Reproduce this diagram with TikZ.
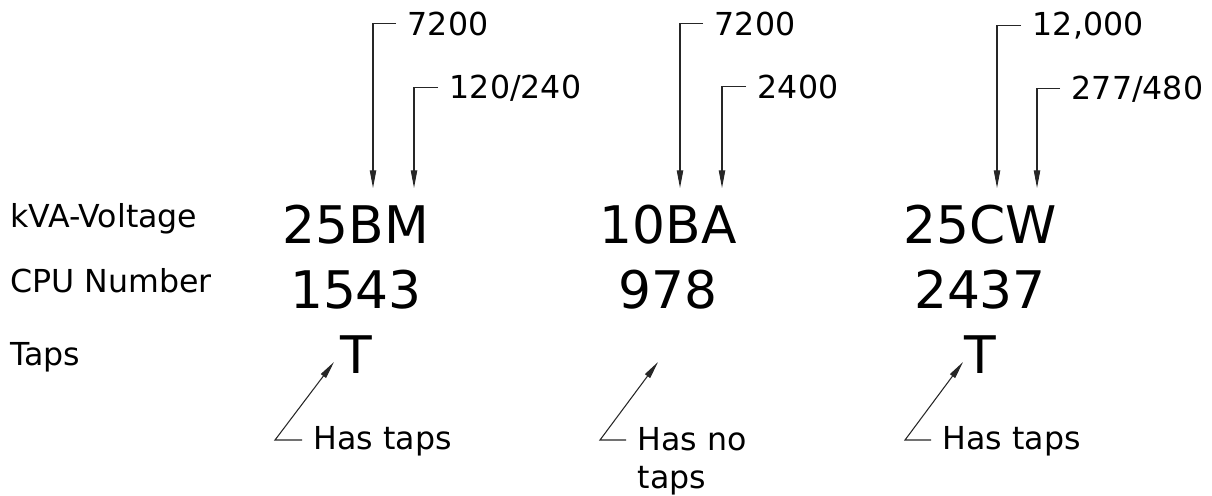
\documentclass[tikz,border=0pt]{standalone}
\usepackage{fontspec}
\setmainfont{DejaVu Sans}
\usepackage{tikz}
\usetikzlibrary{arrows.meta}

\tikzset{
  lbl/.style={font=\fontsize{18}{21.6}\selectfont, inner sep=0pt},
  tag/.style={lbl, inner xsep=6.5pt, anchor=base west},
  code/.style={font=\fontsize{29.5}{35}\selectfont, inner sep=0pt, anchor=base},
  lead/.style={->, line width=0.6pt, draw=black!85}
}

\begin{document}
\begin{tikzpicture}[x=0.02cm, y=-0.02cm, >={Triangle[length=10pt, width=3.6pt]}]
  \useasboundingbox (0,0) rectangle (1212,495);
  % Row labels
  \foreach \i/\y/\txt in {1/227/kVA-Voltage, 2/292/CPU Number, 3/365/Taps}{
    \node[lbl, anchor=base west] (row\i) at (10,\y) {\txt};
  }
  % Codes
  \foreach \i/\x/\kva/\cpu in {1/356/25BM/1543, 2/668/10BA/978, 3/980/25CW/2437}{
    \node[code] (kva\i) at (\x,243) {\kva};
    \node[code] (cpu\i) at (\x,308) {\cpu};
  }
  \node[code] (tap1) at (356,373) {T};
  \node[code] (tap3) at (980,373) {T};
  % Voltage callouts
  \foreach \i/\x/\y/\tx/\txt in {1/396/35/373/7200, 2/438/98/414/{120/240},
      3/703/35/680/7200, 4/746/98/722/2400,
      5/1021/35/997/{12,000}, 6/1060/99/1037/{277/480}}{
    \node[tag] (volt\i) at (\x,\y) {\txt};
    \coordinate (tip\i) at (\tx,188);
    \draw[lead] (volt\i.west) -| (tip\i);
  }
  % Tap callouts (base of a two-line note is its last line)
  \foreach \i/\x/\y/\cx/\px/\txt in {1/302/449/275/334/Has taps,
      2/626/488/600/658/{Has no\\taps}, 3/931/449/905/963/Has taps}{
    \node[tag, align=left] (note\i) at (\x,\y) {\txt};
    \coordinate (bend\i) at (\cx,440);
    \coordinate (point\i) at (\px,362);
    \draw[lead] (note\i.west |- bend\i) -- (bend\i) -- (point\i);
  }
\end{tikzpicture}
\end{document}
